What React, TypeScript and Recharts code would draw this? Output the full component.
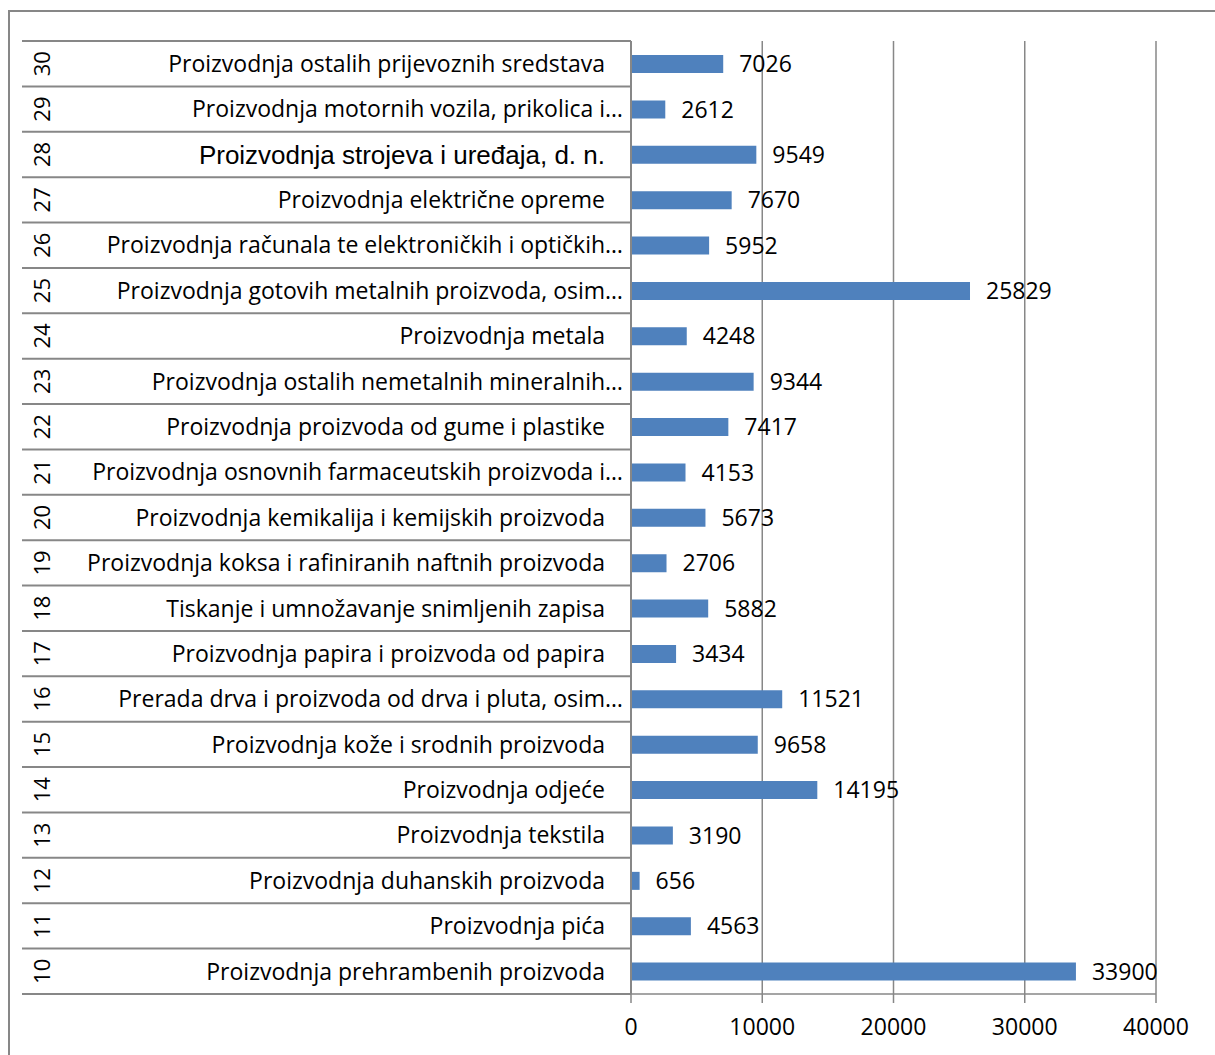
import React from 'react';
import { BarChart, Bar, XAxis, YAxis, CartesianGrid, LabelList } from 'recharts';

// NKD divisions, bottom (10) to top (30)
const codes = ['10', '11', '12', '13', '14', '15', '16', '17', '18', '19', '20', '21', '22', '23', '24', '25', '26', '27', '28', '29', '30'];

const names = [
  'Proizvodnja prehrambenih proizvoda',
  'Proizvodnja pića',
  'Proizvodnja duhanskih proizvoda',
  'Proizvodnja tekstila',
  'Proizvodnja odjeće',
  'Proizvodnja kože i srodnih proizvoda',
  'Prerada drva i proizvoda od drva i pluta, osim…',
  'Proizvodnja papira i proizvoda od papira',
  'Tiskanje i umnožavanje snimljenih zapisa',
  'Proizvodnja koksa i rafiniranih naftnih proizvoda',
  'Proizvodnja kemikalija i kemijskih proizvoda',
  'Proizvodnja osnovnih farmaceutskih proizvoda i…',
  'Proizvodnja proizvoda od gume i plastike',
  'Proizvodnja ostalih nemetalnih mineralnih…',
  'Proizvodnja metala',
  'Proizvodnja gotovih metalnih proizvoda, osim…',
  'Proizvodnja računala te elektroničkih i optičkih…',
  'Proizvodnja električne opreme',
  'Proizvodnja strojeva i uređaja, d. n.',
  'Proizvodnja motornih vozila, prikolica i…',
  'Proizvodnja ostalih prijevoznih sredstava',
];

const values = [33900, 4563, 656, 3190, 14195, 9658, 11521, 3434, 5882, 2706, 5673, 4153, 7417, 9344, 4248, 25829, 5952, 7670, 9549, 2612, 7026];

const xTicks = [0, 10000, 20000, 30000, 40000];

const data = codes.map((code, i) => ({ code, name: names[i], value: values[i] }));

const W = 1215;
const H = 1055;
const TOP = 41;
const RIGHT = 59;
const AXIS_X = 631;
const X_AXIS_H = 61;
const BAND = (H - TOP - X_AXIS_H) / codes.length;
const GRAY = '#878787';
const FONT = '"Open Sans", sans-serif';

const CategoryTick = (props: any) => {
  const { y, payload } = props;
  const i = codes.indexOf(payload.value);
  const name = names[i];
  const cut = name.endsWith('…');
  // one label in the source sheet is set in Arial
  const arial = payload.value === '28';
  return (
    <g>
      <line x1={22} x2={AXIS_X} y1={y - BAND / 2} y2={y - BAND / 2} stroke={GRAY} strokeWidth={2} />
      {i === 0 && <line x1={22} x2={AXIS_X} y1={y + BAND / 2} y2={y + BAND / 2} stroke={GRAY} strokeWidth={2} />}
      <text
        transform={`translate(42, ${y}) rotate(-90)`}
        textAnchor="middle"
        dy="0.36em"
        fontSize={22}
        fontFamily={FONT}
        fill="#000"
      >
        {payload.value}
      </text>
      <text
        x={cut ? 623 : 605}
        y={y}
        dy="0.36em"
        textAnchor="end"
        fontSize={arial ? 26 : 23}
        fontFamily={arial ? '"Liberation Sans", Arial, sans-serif' : FONT}
        fill="#000"
      >
        {name}
      </text>
    </g>
  );
};

export default function App() {
  return (
    <div style={{ position: 'absolute', left: 0, top: 0, width: W, height: H, background: '#fff', overflow: 'hidden' }}>
      <div
        style={{
          position: 'absolute',
          left: 8,
          top: 10,
          width: W - 8,
          height: H - 10,
          borderTop: `2px solid ${GRAY}`,
          borderLeft: `2px solid ${GRAY}`,
          boxSizing: 'border-box',
        }}
      />
      <div style={{ position: 'absolute', left: 0, top: 0 }}>
        <BarChart
          width={W}
          height={H}
          data={data}
          layout="vertical"
          margin={{ top: TOP, right: RIGHT, bottom: 0, left: 0 }}
          barCategoryGap={0}
        >
          <CartesianGrid horizontal={false} stroke={GRAY} strokeWidth={1.5} />
          <XAxis
            type="number"
            domain={[0, 40000]}
            ticks={xTicks}
            height={X_AXIS_H}
            tickSize={9}
            tickMargin={16}
            stroke={GRAY}
            strokeWidth={1.5}
            tick={{ fill: '#000', fontSize: 23, fontFamily: FONT }}
          />
          <YAxis
            type="category"
            dataKey="code"
            reversed
            width={AXIS_X}
            tickLine={false}
            stroke={GRAY}
            strokeWidth={2}
            interval={0}
            tick={<CategoryTick />}
          />
          <Bar dataKey="value" fill="#4F81BD" barSize={18} isAnimationActive={false}>
            <LabelList
              dataKey="value"
              position="right"
              offset={16}
              fill="#000"
              fontSize={23}
              fontFamily={FONT}
            />
          </Bar>
        </BarChart>
      </div>
    </div>
  );
}
